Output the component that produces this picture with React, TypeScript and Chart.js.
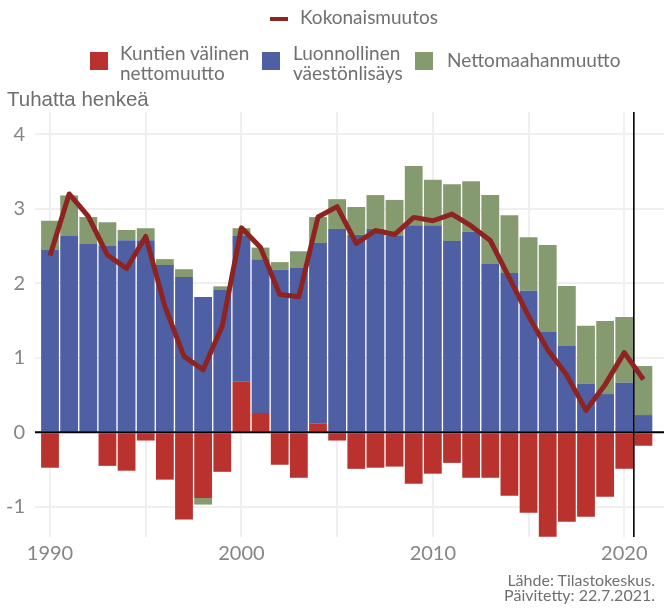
import React, { useEffect, useRef } from 'react';
import { Chart, registerables } from 'chart.js';

Chart.register(...registerables);

const years = [
  1990, 1991, 1992, 1993, 1994, 1995, 1996, 1997, 1998, 1999,
  2000, 2001, 2002, 2003, 2004, 2005, 2006, 2007, 2008, 2009,
  2010, 2011, 2012, 2013, 2014, 2015, 2016, 2017, 2018, 2019,
  2020, 2021,
];

// Kuntien välinen nettomuutto (thousands)
const kuntienValinen = [
  -0.475, 0.01, 0.01, -0.45, -0.515, -0.11, -0.635, -1.17, -0.88, -0.53,
  0.68, 0.26, -0.435, -0.61, 0.12, -0.11, -0.49, -0.475, -0.46, -0.69,
  -0.555, -0.41, -0.61, -0.61, -0.85, -1.08, -1.4, -1.2, -1.133, -0.864,
  -0.489, -0.18,
];

// Luonnollinen väestönlisäys
const luonnollinen = [
  2.45, 2.625, 2.52, 2.5, 2.58, 2.58, 2.245, 2.085, 1.815, 1.91,
  1.955, 2.065, 2.18, 2.205, 2.42, 2.73, 2.65, 2.73, 2.635, 2.78,
  2.78, 2.57, 2.69, 2.26, 2.14, 1.9, 1.347, 1.16, 0.653, 0.514,
  0.666, 0.232,
];

// Nettomaahanmuutto
const nettomaahanmuutto = [
  0.39, 0.545, 0.36, 0.32, 0.136, 0.16, 0.08, 0.105, -0.09, 0.05,
  0.105, 0.155, 0.105, 0.225, 0.35, 0.4, 0.375, 0.455, 0.485, 0.795,
  0.61, 0.76, 0.68, 0.925, 0.775, 0.72, 1.168, 0.805, 0.777, 0.98,
  0.882, 0.658,
];

// Kokonaismuutos
const kokonaismuutos = [
  2.37, 3.2, 2.9, 2.38, 2.2, 2.63, 1.69, 1.02, 0.84, 1.43,
  2.745, 2.48, 1.85, 1.82, 2.89, 3.03, 2.535, 2.71, 2.655, 2.885,
  2.84, 2.93, 2.77, 2.575, 2.07, 1.56, 1.11, 0.765, 0.295, 0.64,
  1.07, 0.71,
];

const xGridTicks = [1990, 1995, 2000, 2005, 2010, 2015, 2020];
const xTickLabels = [1990, 2000, 2010, 2020];
const yTicks = [-1, 0, 1, 2, 3, 4];
const markerYear = 2020.5;

const COLORS = {
  red: '#B9322E',
  blue: '#4F5FA4',
  green: '#869A6F',
  line: '#8E2421',
  grid: '#efefef',
  tick: '#858585',
  text: '#707070',
};

const pts = (vals: number[]) => years.map((x, i) => ({ x, y: vals[i] }));

const refLines = {
  id: 'refLines',
  afterDatasetDraw(chart: any, args: any) {
    if (args.index !== 1) return;
    const { ctx, chartArea, scales } = chart;
    ctx.save();
    ctx.strokeStyle = '#000';
    const y0 = scales.y.getPixelForValue(0);
    ctx.lineWidth = 2;
    ctx.beginPath();
    ctx.moveTo(chartArea.left, y0);
    ctx.lineTo(chartArea.right, y0);
    ctx.stroke();
    const xm = scales.x.getPixelForValue(markerYear);
    ctx.lineWidth = 1.6;
    ctx.beginPath();
    ctx.moveTo(xm, chartArea.top);
    ctx.lineTo(xm, chartArea.bottom);
    ctx.stroke();
    ctx.restore();
  },
};

export default function App() {
  const canvasRef = useRef<HTMLCanvasElement | null>(null);

  useEffect(() => {
    const canvas = canvasRef.current;
    if (!canvas) return;
    const barCommon = {
      type: 'bar' as const,
      stack: 'comp',
      categoryPercentage: 1,
      barPercentage: 0.93,
      borderWidth: 0,
    };
    const chart = new Chart(canvas, {
      type: 'bar',
      data: {
        datasets: [
          {
            type: 'line',
            label: 'Kokonaismuutos',
            data: pts(kokonaismuutos),
            stack: 'total',
            borderColor: COLORS.line,
            backgroundColor: COLORS.line,
            borderWidth: 5,
            pointRadius: 0,
            tension: 0,
            borderJoinStyle: 'round',
          } as any,
          { ...barCommon, label: 'Kuntien välinen nettomuutto', data: pts(kuntienValinen), backgroundColor: COLORS.red } as any,
          { ...barCommon, label: 'Luonnollinen väestönlisäys', data: pts(luonnollinen), backgroundColor: COLORS.blue } as any,
          { ...barCommon, label: 'Nettomaahanmuutto', data: pts(nettomaahanmuutto), backgroundColor: COLORS.green } as any,
        ],
      },
      options: {
        animation: false,
        responsive: false,
        events: [],
        layout: { padding: { top: 112, left: 0, right: 0, bottom: 0 } },
        plugins: { legend: { display: false }, tooltip: { enabled: false } },
        scales: {
          x: {
            type: 'linear',
            min: 1989.216,
            max: 2022.075,
            stacked: true,
            offset: false,
            afterBuildTicks: (s: any) => {
              s.ticks = xGridTicks.map((v) => ({ value: v }));
            },
            afterFit: (s: any) => {
              s.height = 73;
            },
            grid: { offset: false, color: COLORS.grid, lineWidth: 2, drawTicks: false },
            border: { display: false },
            ticks: {
              padding: 5,
              color: COLORS.tick,
              font: { family: 'Lato', size: 20 },
              maxRotation: 0,
              autoSkip: false,
              callback: (v: any) => (xTickLabels.includes(Number(v)) ? String(v) : ''),
            },
          } as any,
          y: {
            type: 'linear',
            min: -1.405,
            max: 4.3,
            stacked: true,
            afterBuildTicks: (s: any) => {
              s.ticks = yTicks.map((v) => ({ value: v }));
            },
            afterFit: (s: any) => {
              s.width = 35;
            },
            grid: { color: COLORS.grid, lineWidth: 2, drawTicks: false },
            border: { display: false },
            ticks: {
              padding: 10,
              color: COLORS.tick,
              font: { family: 'Lato', size: 20 },
              callback: (v: any) => String(v),
            },
          } as any,
        },
      },
      plugins: [refLines],
    });
    return () => chart.destroy();
  }, []);

  const legendText: React.CSSProperties = {
    position: 'absolute',
    fontFamily: 'Lato, sans-serif',
    fontSize: 19,
    color: COLORS.text,
    whiteSpace: 'nowrap',
  };
  const sq = (left: number, color: string): React.CSSProperties => ({
    position: 'absolute',
    left,
    top: 52,
    width: 18,
    height: 18,
    background: color,
  });

  return (
    <div style={{ position: 'absolute', left: 0, top: 0, width: 664, height: 610, background: '#fff', overflow: 'hidden' }}>
      <canvas ref={canvasRef} width={664} height={610} style={{ position: 'absolute', left: 0, top: 0 }} />
      {/* legend row 1 */}
      <div style={{ position: 'absolute', left: 270, top: 17, width: 18, height: 4, background: COLORS.line }} />
      <div style={{ ...legendText, left: 300, top: 6, lineHeight: '22.8px' }}>Kokonaismuutos</div>
      {/* legend row 2 */}
      <div style={sq(90, COLORS.red)} />
      <div style={{ ...legendText, left: 120, top: 43, lineHeight: '19.5px' }}>
        Kuntien välinen
        <br />
        nettomuutto
      </div>
      <div style={sq(262, COLORS.blue)} />
      <div style={{ ...legendText, left: 293, top: 43, lineHeight: '19.5px' }}>
        Luonnollinen
        <br />
        väestönlisäys
      </div>
      <div style={sq(415, COLORS.green)} />
      <div style={{ ...legendText, left: 447, top: 49, lineHeight: '22.8px' }}>Nettomaahanmuutto</div>
      {/* axis title */}
      <div
        style={{
          position: 'absolute',
          left: 7,
          top: 88.6,
          fontFamily: '"Liberation Sans", Arial, sans-serif',
          fontSize: 20.5,
          lineHeight: '20.5px',
          color: '#6e6e6e',
          whiteSpace: 'nowrap',
        }}
      >
        Tuhatta henkeä
      </div>
      {/* source */}
      <div
        style={{
          position: 'absolute',
          right: 9,
          top: 572,
          fontFamily: 'Lato, sans-serif',
          fontSize: 16,
          lineHeight: '15px',
          color: COLORS.text,
          textAlign: 'right',
          whiteSpace: 'nowrap',
        }}
      >
        Lähde: Tilastokeskus.
        <br />
        Päivitetty: 22.7.2021.
      </div>
    </div>
  );
}
